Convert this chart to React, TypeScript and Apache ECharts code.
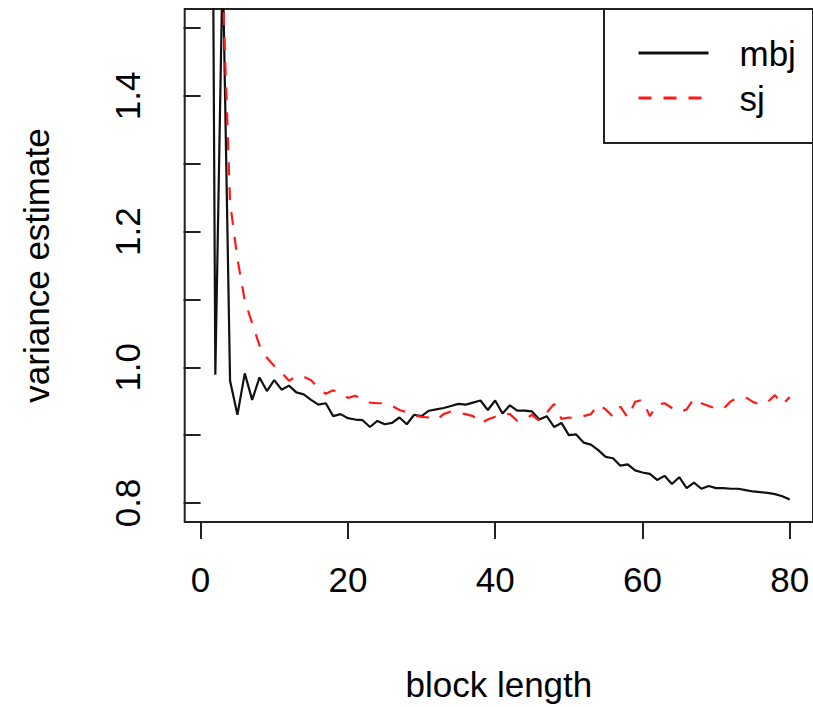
import React, { useEffect, useRef } from "react";
import * as echarts from "echarts";

// block length runs 1..80; value at index i belongs to block length i + 1
const mbj: number[] = [
  3.0, 0.989, 1.6, 0.98, 0.93, 0.991, 0.952, 0.985, 0.965, 0.981,
  0.967, 0.973, 0.963, 0.96, 0.952, 0.945, 0.947, 0.928, 0.931, 0.925,
  0.923, 0.922, 0.912, 0.921, 0.916, 0.918, 0.926, 0.916, 0.93, 0.928,
  0.936, 0.938, 0.94, 0.943, 0.946, 0.945, 0.948, 0.951, 0.937, 0.951,
  0.932, 0.944, 0.936, 0.936, 0.935, 0.923, 0.928, 0.912, 0.918, 0.9,
  0.901, 0.889, 0.886, 0.878, 0.868, 0.866, 0.855, 0.857, 0.848, 0.845,
  0.843, 0.834, 0.84, 0.828, 0.838, 0.822, 0.83, 0.821, 0.825, 0.822,
  0.822, 0.821, 0.821, 0.819, 0.817, 0.816, 0.815, 0.813, 0.81, 0.805,
];

const sj: (number | null)[] = [
  null, null, 1.56, 1.243, 1.16, 1.098, 1.065, 1.032, 1.014, 1.002,
  0.992, 0.98, 0.987, 0.986, 0.981, 0.969, 0.961, 0.966, 0.962, 0.955,
  0.958, 0.952, 0.948, 0.947, 0.947, 0.943, 0.937, 0.934, 0.929, 0.927,
  0.926, 0.922, 0.931, 0.935, 0.933, 0.931, 0.928, 0.917, 0.923, 0.927,
  0.931, 0.931, 0.921, 0.923, 0.93, 0.921, 0.933, 0.946, 0.924, 0.926,
  0.925, 0.928, 0.931, 0.945, 0.938, 0.927, 0.942, 0.926, 0.949, 0.952,
  0.928, 0.945, 0.947, 0.94, 0.934, 0.938, 0.954, 0.947, 0.943, 0.939,
  0.939, 0.95, 0.955, 0.956, 0.949, 0.945, 0.949, 0.959, 0.945, 0.956,
];

const xTicks = [0, 20, 40, 60, 80];
const yTicks = [0.8, 0.9, 1.0, 1.1, 1.2, 1.3, 1.4, 1.5];
const yLabels = [0.8, 1.0, 1.2, 1.4];

const FONT = "'Liberation Sans', Arial, Helvetica, sans-serif";

export default function App() {
  const ref = useRef<HTMLDivElement>(null);
  useEffect(() => {
    if (!ref.current) return;
    const chart = echarts.init(ref.current, undefined, { renderer: "svg" });
    const toPairs = (arr: (number | null)[]) => arr.map((v, i) => [i + 1, v]);
    chart.setOption({
      animation: false,
      backgroundColor: "#ffffff",
      grid: {
        left: 184.7,
        top: 9,
        right: -1.8,
        bottom: 184.3,
        show: true,
        borderColor: "#222",
        borderWidth: 2,
        backgroundColor: "transparent",
      },
      legend: {
        orient: "vertical",
        left: 604,
        top: 9,
        padding: [24, 21, 25, 33],
        itemGap: 5,
        itemWidth: 70,
        itemHeight: 20,
        borderColor: "#222",
        borderWidth: 2,
        borderRadius: 0,
        data: ["mbj", "sj"],
        itemStyle: { opacity: 0 },
        lineStyle: { width: 3 },
        textStyle: {
          fontSize: 35,
          lineHeight: 40,
          color: "#000",
          fontFamily: FONT,
          padding: [0, 0, 0, 26],
        },
      },
      xAxis: {
        type: "value",
        min: -2.16,
        max: 83.16,
        axisLine: { show: false },
        splitLine: { show: false },
        axisTick: {
          show: true,
          customValues: xTicks,
          length: 17,
          lineStyle: { color: "#222", width: 2 },
        },
        axisLabel: {
          customValues: xTicks,
          fontSize: 35,
          color: "#000",
          fontFamily: FONT,
          margin: 40,
        },
        name: "block length",
        nameLocation: "middle",
        nameGap: 145,
        nameTextStyle: { fontSize: 35, color: "#000", fontFamily: FONT },
      },
      yAxis: {
        type: "value",
        min: 0.772,
        max: 1.528,
        axisLine: { show: false },
        splitLine: { show: false },
        axisTick: {
          show: true,
          customValues: yTicks,
          length: 17,
          lineStyle: { color: "#222", width: 2 },
        },
        axisLabel: {
          customValues: yLabels,
          formatter: (v: number) => v.toFixed(1),
          rotate: 90,
          fontSize: 35,
          color: "#000",
          fontFamily: FONT,
          margin: 40,
        },
        name: "variance estimate",
        nameLocation: "middle",
        nameGap: 131,
        nameRotate: 90,
        nameTextStyle: { fontSize: 35, color: "#000", fontFamily: FONT },
      },
      series: [
        {
          name: "mbj",
          type: "line",
          data: toPairs(mbj),
          symbol: "none",
          clip: true,
          connectNulls: false,
          lineStyle: { color: "#111", width: 2.2 },
          itemStyle: { color: "#111" },
        },
        {
          name: "sj",
          type: "line",
          data: toPairs(sj),
          symbol: "none",
          clip: true,
          connectNulls: false,
          lineStyle: { color: "#ff1a1a", width: 2.2, type: [13, 12] },
          itemStyle: { color: "#ff1a1a" },
        },
      ],
    });
    return () => chart.dispose();
  }, []);
  return (
    <div
      ref={ref}
      style={{ position: "fixed", left: 0, top: 0, width: 813, height: 707 }}
    />
  );
}
